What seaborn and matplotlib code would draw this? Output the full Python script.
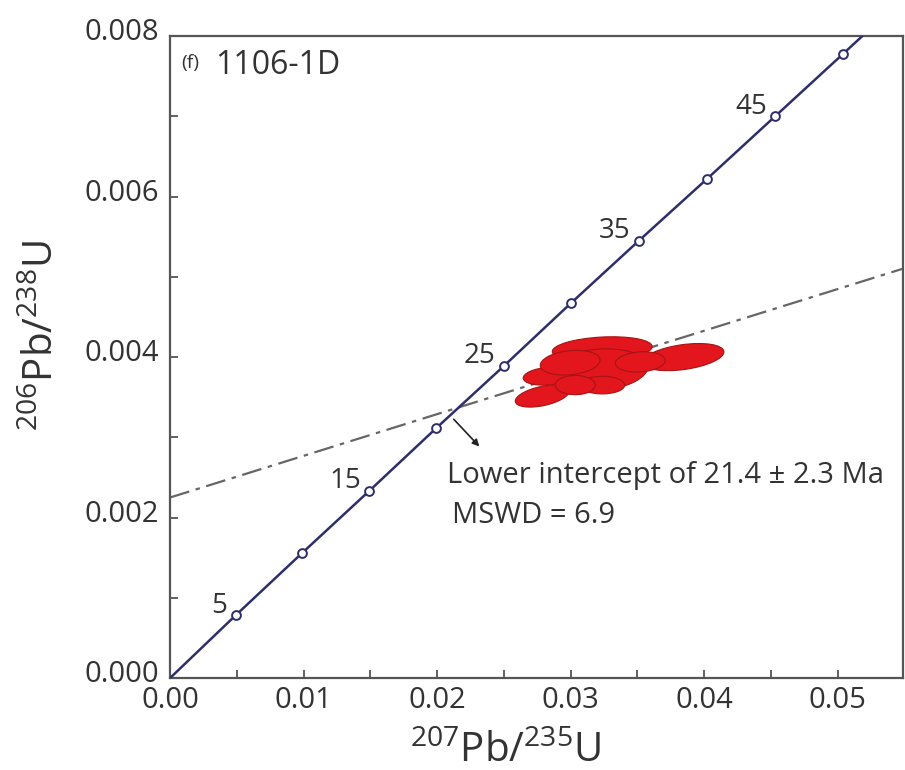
import matplotlib
matplotlib.use("Agg")
import matplotlib.pyplot as plt
from matplotlib.patches import Ellipse
from matplotlib.transforms import Affine2D, ScaledTranslation
import seaborn as sns
import pandas as pd

# concordia ages (Ma) and ratios
ages = [5, 10, 15, 20, 25, 30, 35, 40, 45, 50]
pb207_u235 = [0.0049, 0.0099, 0.0149, 0.0199, 0.0250, 0.0300, 0.0351, 0.0402, 0.0453, 0.0504]
pb206_u238 = [0.00078, 0.00156, 0.00233, 0.00311, 0.00389, 0.00467, 0.00545, 0.00622, 0.00700, 0.00778]
labelled_ages = [5, 15, 25, 35, 45]

# concordia curve ends (origin and beyond top of frame)
curve_x = [0.0] + pb207_u235 + [0.0530]
curve_y = [0.0] + pb206_u238 + [0.00818]

# discordia line
disc_x = [0.0, 0.056]
disc_y = [0.00225, 0.00516]

# error ellipses: centre x, centre y, width (x units), height (y units), tilt on page (deg)
ell_x = [0.03236, 0.03206, 0.03843, 0.02831, 0.02787, 0.03236, 0.03034, 0.03521, 0.02996]
ell_y = [0.004100, 0.003838, 0.00400, 0.003763, 0.003514, 0.003651, 0.003651, 0.00394, 0.00393]
ell_w = [0.00749, 0.00749, 0.00614, 0.00375, 0.00412, 0.00337, 0.00300, 0.00375, 0.00450]
ell_h = [0.000300, 0.000520, 0.000310, 0.000220, 0.000240, 0.000220, 0.000240, 0.000250, 0.000300]
ell_a = [3, 5, 8, 5, 12, 0, 0, 4, 6]

sns.set_theme(style="ticks")
plt.rcParams["font.family"] = ["Open Sans", "DejaVu Sans"]
plt.rcParams["mathtext.fontset"] = "custom"
plt.rcParams["mathtext.rm"] = "Open Sans"
plt.rcParams["mathtext.it"] = "Open Sans"

fig = plt.figure(figsize=(9.05, 7.7), dpi=100)
ax = fig.add_axes([0.188, 0.1195, 0.810, 0.8335])
ax.set_xlim(0, 0.0549)
ax.set_ylim(0, 0.008)

navy = "#2e2e6a"
frame = "#555555"
txt = "#333333"

sns.lineplot(x=disc_x, y=disc_y, ax=ax, color="#666666", lw=1.6,
             dashes=False, linestyle=(0, (9, 3, 2, 3)), zorder=2)

# draw ellipses in an isotropic frame so the tilt matches the page
bb = ax.get_position()
r = (bb.height * 7.7 / 0.008) / (bb.width * 9.05 / 0.0549)
iso = Affine2D().scale(1, 1 / r) + ax.transData
for cx, cy, w, h, a in zip(ell_x, ell_y, ell_w, ell_h, ell_a):
    ax.add_patch(Ellipse((cx, cy * r), w, h * r, angle=a, transform=iso,
                         facecolor="#e3161e", edgecolor="#a51414", lw=0.8, zorder=3))

sns.lineplot(x=curve_x, y=curve_y, ax=ax, color=navy, lw=1.8, sort=False, zorder=4)
conc = pd.DataFrame({"x": pb207_u235, "y": pb206_u238, "age": ages})
sns.scatterplot(data=conc, x="x", y="y", ax=ax, s=40, marker="o",
                facecolor="white", edgecolor=navy, linewidth=1.4, zorder=5)

for _, row in conc[conc["age"].isin(labelled_ages)].iterrows():
    ax.annotate(str(int(row["age"])), (row["x"], row["y"]), xytext=(-6, 7),
                textcoords="offset points", ha="right", va="center",
                fontsize=20, color=txt)

ax.annotate("", xy=(0.0233, 0.00286), xytext=(0.0211, 0.00325),
            arrowprops=dict(arrowstyle="-|>", color="#222222", lw=1.2,
                            mutation_scale=10))
ax.text(0.0207, 0.00253, "Lower intercept of 21.4 \u00b1 2.3 Ma", fontsize=21,
        color=txt, va="center", ha="left")
ax.text(0.0211, 0.00203, "MSWD = 6.9", fontsize=21, color=txt,
        va="center", ha="left")

ax.text(0.0008, 0.00766, "(f)", fontsize=14, color=txt, va="center")
ax.text(0.0034, 0.00764, "1106-1D", fontsize=23, color=txt, va="center")

ax.set_xticks([0.0, 0.01, 0.02, 0.03, 0.04, 0.05])
ax.set_xticklabels(["0.00", "0.01", "0.02", "0.03", "0.04", "0.05"])
ax.set_yticks([0.0, 0.002, 0.004, 0.006, 0.008])
ax.set_yticklabels(["0.000", "0.002", "0.004", "0.006", "0.008"])
ax.set_xticks([0.005, 0.015, 0.025, 0.035, 0.045], minor=True)
ax.set_yticks([0.001, 0.003, 0.005, 0.007], minor=True)
ax.tick_params(which="both", direction="in", length=6, width=1.3, color=frame,
               labelsize=21, labelcolor=txt)
ax.tick_params(axis="x", pad=6)
ax.tick_params(axis="y", pad=8)
for lab in ax.get_yticklabels():
    lab.set_transform(lab.get_transform() + ScaledTranslation(0, 5 / 72, fig.dpi_scale_trans))
for sp in ax.spines.values():
    sp.set_visible(True)
    sp.set_color(frame)
    sp.set_linewidth(1.6)

ax.set_xlabel(r"$^{207}$Pb/$^{235}$U", fontsize=29, color=txt)
ax.set_ylabel(r"$^{206}$Pb/$^{238}$U", fontsize=29, color=txt)
ax.xaxis.set_label_coords(0.457, -0.083)
ax.yaxis.set_label_coords(-0.146, 0.534)

fig.savefig("out.png", dpi=100)
